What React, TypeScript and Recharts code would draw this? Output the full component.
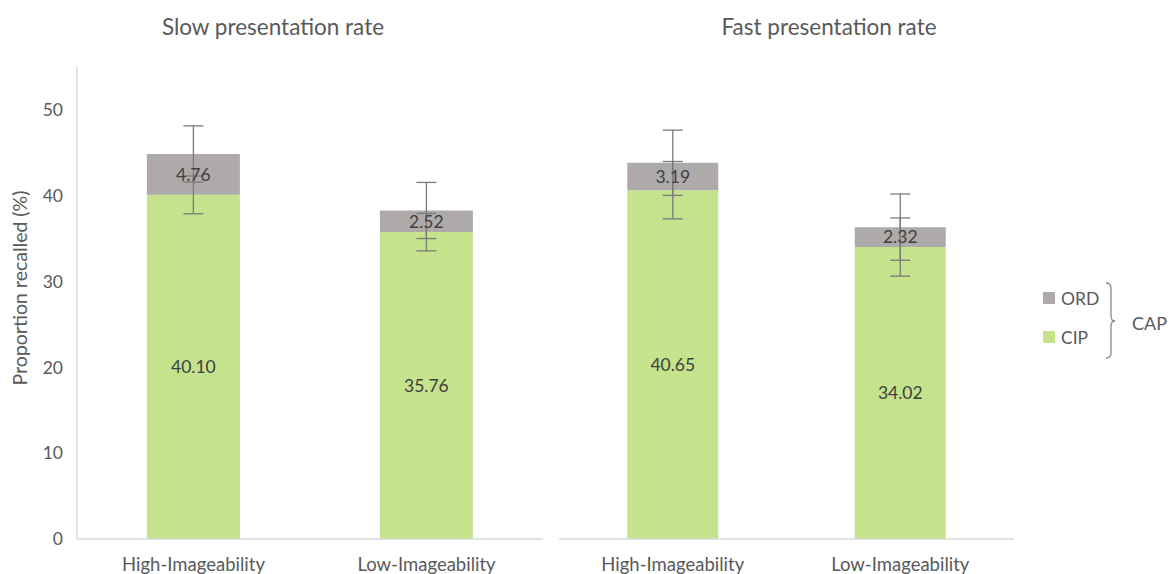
import React from 'react';
import { BarChart, Bar, XAxis, YAxis, ErrorBar, LabelList } from 'recharts';

const categories = ['High-Imageability', 'Low-Imageability'];
const slowCIP = [40.1, 35.76];
const slowORD = [4.76, 2.52];
const slowCIPErr = [2.2, 2.18];
const slowCAPErr = [3.28, 3.27];
const fastCIP = [40.65, 34.02];
const fastORD = [3.19, 2.32];
const fastCIPErr = [3.34, 3.39];
const fastCAPErr = [3.8, 3.86];
const yTicks = [0, 10, 20, 30, 40, 50];
const panelTitles = ['Slow presentation rate', 'Fast presentation rate'];

const build = (cip: number[], ord: number[], cipErr: number[], capErr: number[]) =>
  categories.map((name, i) => ({ name, cip: cip[i], ord: ord[i], cipErr: cipErr[i], capErr: capErr[i] }));

const slowData = build(slowCIP, slowORD, slowCIPErr, slowCAPErr);
const fastData = build(fastCIP, fastORD, fastCIPErr, fastCAPErr);

const FONT = 'Lato, "Open Sans", sans-serif';
const GREEN = '#c5e28c';
const GRAY = '#aeaaaa';
const ERR = '#7b7b7b';
const AXIS = '#d9d9d9';
const TEXT = '#595959';

const fmt = (v: any) => Number(v).toFixed(2);

function Panel({ data, showY, width, margin }: { data: any[]; showY: boolean; width: number; margin: any }) {
  return (
    <BarChart width={width} height={574} data={data} margin={margin} barCategoryGap="30%">
      <XAxis
        dataKey="name"
        axisLine={{ stroke: AXIS, strokeWidth: 1.5 }}
        tickLine={false}
        height={30}
        tickMargin={13}
        tick={{ fill: TEXT, fontSize: 18.5, fontFamily: FONT }}
        interval={0}
      />
      <YAxis
        hide={!showY}
        width={77}
        domain={[0, 55]}
        ticks={yTicks}
        axisLine={{ stroke: AXIS, strokeWidth: 1.5 }}
        tickLine={false}
        tickMargin={8}
        tick={{ fill: TEXT, fontSize: 17.5, fontFamily: FONT }}
        allowDataOverflow
      />
      <Bar dataKey="cip" stackId="s" fill={GREEN} isAnimationActive={false}>
        <ErrorBar dataKey="cipErr" width={10} stroke={ERR} strokeWidth={1.3} direction="y" />
        <LabelList dataKey="cip" position="center" formatter={fmt} fill="#404040" fontSize={17.5} fontFamily={FONT} />
      </Bar>
      <Bar dataKey="ord" stackId="s" fill={GRAY} isAnimationActive={false}>
        <ErrorBar dataKey="capErr" width={10} stroke={ERR} strokeWidth={1.3} direction="y" />
        <LabelList dataKey="ord" position="center" formatter={fmt} fill="#404040" fontSize={17.5} fontFamily={FONT} />
      </Bar>
    </BarChart>
  );
}

export default function App() {
  return (
    <div style={{ position: 'absolute', left: 0, top: 0, width: 1170, height: 574, background: '#fff', overflow: 'hidden' }}>
      <div style={{ position: 'absolute', left: 0, top: 0 }}>
        <Panel data={slowData} showY width={560} margin={{ top: 67, right: 17, bottom: 5, left: 0 }} />
      </div>
      <div style={{ position: 'absolute', left: 540, top: 0 }}>
        <Panel data={fastData} showY={false} width={500} margin={{ top: 67, right: 26, bottom: 5, left: 19 }} />
      </div>
      <svg width={1170} height={574} style={{ position: 'absolute', left: 0, top: 0, pointerEvents: 'none' }}>
        <text x={273} y={35} textAnchor="middle" fontSize={22.5} fill={TEXT} fontFamily={FONT}>{panelTitles[0]}</text>
        <text x={829} y={35} textAnchor="middle" fontSize={22.5} fill={TEXT} fontFamily={FONT}>{panelTitles[1]}</text>
        <text transform="translate(27,288) rotate(-90)" textAnchor="middle" fontSize={19.5} fill={TEXT} fontFamily={FONT}>Proportion recalled (%)</text>
        <rect x={1043} y={292} width={12} height={12} fill={GRAY} />
        <text x={1061} y={305} fontSize={17.5} fill={TEXT} fontFamily={FONT}>ORD</text>
        <rect x={1043} y={331} width={12} height={12} fill={GREEN} />
        <text x={1061} y={344} fontSize={17.5} fill={TEXT} fontFamily={FONT}>CIP</text>
        <path d="M1106,283 Q1111,283 1111,288 L1111,316 Q1111,321 1115,321 Q1111,321 1111,326 L1111,353 Q1111,358 1106,358" fill="none" stroke="#8a8a8a" strokeWidth={1.3} />
        <text x={1132} y={330} fontSize={18} fill={TEXT} fontFamily={FONT}>CAP</text>
      </svg>
    </div>
  );
}
